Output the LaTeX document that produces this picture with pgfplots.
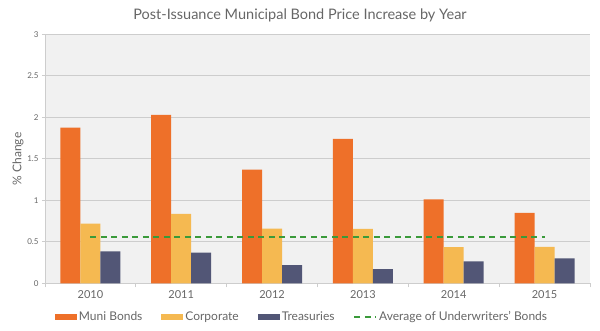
\documentclass[border=0pt]{standalone}
\usepackage{fontspec}
\setmainfont{Lato}
\usepackage{pgfplots}
\pgfplotsset{compat=1.18}
\definecolor{cOrange}{HTML}{EE7029}
\definecolor{cYellow}{HTML}{F5B951}
\definecolor{cNavy}{HTML}{525676}
\definecolor{cGreen}{HTML}{3A9A3A}
\definecolor{cText}{HTML}{666666}
\definecolor{cGrid}{HTML}{CDCDCD}
\definecolor{cBg}{HTML}{F1F1F1}
\pgfplotstableread{
x muni corp treas
0 1.875 0.72 0.385
1 2.03 0.835 0.37
2 1.37 0.66 0.22
3 1.74 0.655 0.17
4 1.01 0.435 0.265
5 0.85 0.44 0.30
}\datatable
\begin{document}
\begin{tikzpicture}
\useasboundingbox (-45pt,-46.7pt) rectangle (555pt,283.3pt);
\begin{axis}[
  at={(0pt,0pt)}, anchor=south west,
  scale only axis, width=545pt, height=249pt,
  xmin=-0.5, xmax=5.5, ymin=0, ymax=3,
  xtick={0,...,5}, xticklabels={2010,2011,2012,2013,2014,2015},
  minor xtick={-0.5,0.5,...,5.5},
  ytick={0,0.5,...,3},
  yticklabels={0,0.5,1,1.5,2,2.5,3},
  axis x line*=bottom, axis y line*=left,
  axis line style={draw=cGrid, line width=0.8pt, -},
  major x tick style={draw=none},
  minor x tick style={draw=cGrid, line width=0.8pt},
  minor tick length=4pt,
  y tick style={draw=cGrid, line width=0.8pt},
  major tick length=3pt,
  tick align=outside,
  ymajorgrids, grid style={draw=cGrid, line width=0.8pt},
  axis background/.style={fill=cBg},
  /pgf/number format/assume math mode=true,
  x tick label style={font=\fontsize{11}{13}\selectfont, text=cText, yshift=-1pt},
  y tick label style={font=\fontsize{8}{10}\selectfont, text=cText},
  legend columns=4,
  legend style={at={(0.4716,-0.135)}, anchor=center, draw=none, fill=none,
    font=\fontsize{12}{14}\selectfont, text=cText,
    /tikz/every even column/.append style={column sep=17pt}},
  legend cell align=left,
]
\addplot[ybar, bar width=20pt, bar shift=-20pt, fill=cOrange, draw=none,
  legend image code/.code={\fill[cOrange] (0pt,-3pt) rectangle (22pt,3pt);}]
  table[x=x, y=muni] {\datatable};
\addlegendentry{Muni Bonds}
\addplot[ybar, bar width=20pt, bar shift=0pt, fill=cYellow, draw=none,
  legend image code/.code={\fill[cYellow] (0pt,-3pt) rectangle (22pt,3pt);}]
  table[x=x, y=corp] {\datatable};
\addlegendentry{Corporate}
\addplot[ybar, bar width=20pt, bar shift=20pt, fill=cNavy, draw=none,
  legend image code/.code={\fill[cNavy] (0pt,-3pt) rectangle (22pt,3pt);}]
  table[x=x, y=treas] {\datatable};
\addlegendentry{Treasuries}
\addplot[sharp plot, cGreen, line width=1.5pt, dash pattern=on 6pt off 4.5pt, mark=none,
  legend image code/.code={\draw[cGreen, line width=1.5pt, dash pattern=on 6pt off 4.5pt] (0pt,0pt) -- (22pt,0pt);}]
  coordinates {(0,0.555) (5,0.555)};
\addlegendentry{Average of Underwriters' Bonds}
\end{axis}
\node[font=\fontsize{12}{14}\selectfont, text=cText, rotate=90] at (-27pt,124.5pt) {\% Change};
\node[font=\fontsize{14.5}{16}\selectfont, text=cText] at (255pt,268.3pt) {Post-Issuance Municipal Bond Price Increase by Year};
\end{tikzpicture}
\end{document}
